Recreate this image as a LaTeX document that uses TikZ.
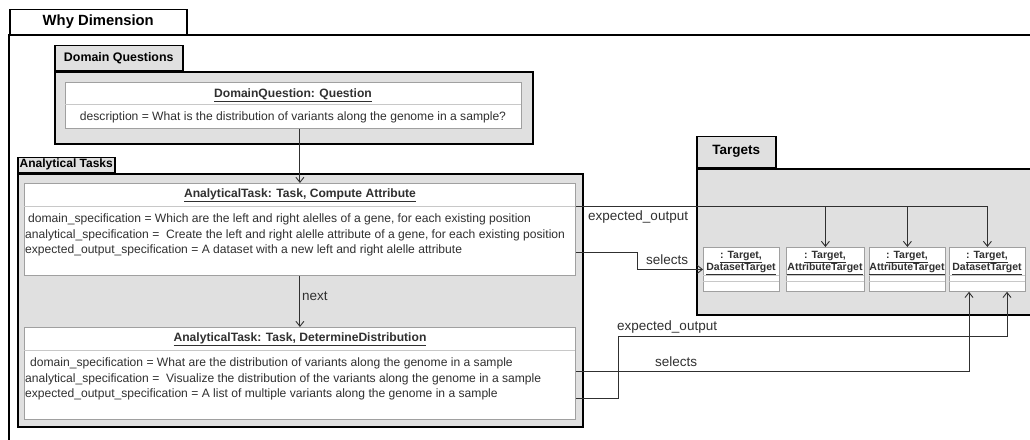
\documentclass[tikz,border=0pt]{standalone}
\usepackage{fontspec}
\setmainfont{Liberation Sans}
\usetikzlibrary{arrows.meta}

\definecolor{pkgfill}{HTML}{E0E0E0}
\definecolor{boxline}{HTML}{A0A0A0}
\definecolor{sepgray}{HTML}{C8C8C8}
\definecolor{inkgray}{HTML}{303030}

\tikzset{
  pkgtab/.style={draw=black, line width=1.5pt, fill=pkgfill, anchor=south west, inner sep=0pt,
    font=\bfseries\fontsize{12.4}{14}\selectfont},
  pkgbody/.style={draw=black, line width=1.5pt, fill=pkgfill, anchor=north west, inner sep=0pt},
  umlbox/.style={draw=boxline, line width=0.8pt, fill=white, anchor=north west, inner sep=0pt},
  sepline/.style={draw=sepgray, line width=0.8pt},
  umltitle/.style={font=\bfseries\fontsize{12.1}{14}\selectfont, text=inkgray, anchor=base, inner sep=0pt},
  attrtext/.style={font=\fontsize{12.1}{14}\selectfont, text=inkgray, anchor=base west, inner sep=0pt},
  tgtext/.style={font=\bfseries\fontsize{10.5}{12.5}\selectfont, text=inkgray, align=center, inner sep=0pt},
  conn/.style={draw=inkgray, line width=0.9pt},
  arr/.style={conn, -{Straight Barb[length=5pt, width=8pt]}},
  connlabel/.style={font=\fontsize{13.5}{15}\selectfont, text=inkgray, anchor=base west, inner sep=0pt},
}

\begin{document}
\begin{tikzpicture}[x=1pt, y=-1pt]

  \useasboundingbox (0,0) rectangle (1030,439);

  % targetbox[name, x, width, kind]
  \def\targetbox[#1, #2, #3, #4]{
    \node[umlbox, minimum width=#3pt, minimum height=44pt] (#1) at (#2,247) {};
    \draw[sepline] (#2,275) -- (#2+#3,275);
    \draw[sepline] (#2,281) -- (#2+#3,281);
    \node[tgtext] (#1-name) at (#2+#3/2,263) {\underline{: Target,}\\\underline{#4}};
  }

  % Why Dimension frame
  \draw[black, line width=1.5pt] (1032,35) -- (9,35) -- (9,441);
  \node[pkgtab, fill=white, minimum width=177pt, minimum height=25pt,
    font=\bfseries\fontsize{14.8}{16}\selectfont] (whytab) at (9,35) {Why Dimension};

  % Domain Questions
  \node[pkgbody, minimum width=478pt, minimum height=72pt] (dqbody) at (54,71) {};
  \node[pkgtab, minimum width=128pt, minimum height=25pt] (dqtab) at (dqbody.north west) {Domain Questions};
  \node[umlbox, minimum width=456pt, minimum height=46pt] (dq) at (65,82) {};
  \draw[sepline] (65,104) -- (521,104);
  \node[umltitle] (dqtitle) at (293,97) {\underline{DomainQuestion: Question}};
  \node[attrtext, anchor=base] (dqdesc) at (293,120)
    {description = What is the distribution of variants along the genome in a sample?};

  % Analytical Tasks
  \node[pkgbody, minimum width=565pt, minimum height=253pt] (atbody) at (17,173) {};
  \node[pkgtab, minimum width=97pt, minimum height=15pt,
    font=\bfseries\fontsize{12}{13}\selectfont] (attab) at (atbody.north west) {Analytical Tasks};

  \node[umlbox, minimum width=551pt, minimum height=92pt] (task1) at (24,183) {};
  \draw[sepline] (24,206) -- (575,206);
  \node[umltitle] (task1title) at (300,197) {\underline{AnalyticalTask: Task, Compute Attribute}};
  \node[attrtext] (task1a) at (28,222)
    {domain\_specification = Which are the left and right alelles of a gene, for each existing position};
  \node[attrtext] (task1b) at (25,238)
    {analytical\_specification = \ Create the left and right alelle attribute of a gene, for each existing position};
  \node[attrtext] (task1c) at (25,253)
    {expected\_output\_specification = A dataset with a new left and right alelle attribute};

  \node[umlbox, minimum width=551pt, minimum height=92pt] (task2) at (24,327) {};
  \draw[sepline] (24,350) -- (575,350);
  \node[umltitle] (task2title) at (300,341) {\underline{AnalyticalTask: Task, DetermineDistribution}};
  \node[attrtext] (task2a) at (30,366)
    {domain\_specification = What are the distribution of variants along the genome in a sample};
  \node[attrtext] (task2b) at (25,382)
    {analytical\_specification = \ Visualize the distribution of the variants along the genome in a sample};
  \node[attrtext] (task2c) at (25,397)
    {expected\_output\_specification = A list of multiple variants along the genome in a sample};

  % Targets
  \node[pkgbody, minimum width=340pt, minimum height=146pt] (tgbody) at (696,168) {};
  \node[pkgtab, minimum width=79pt, minimum height=31pt,
    font=\bfseries\fontsize{13.5}{15}\selectfont] (tgtab) at (tgbody.north west) {Targets};

  \targetbox[tg1, 703, 76, DatasetTarget]
  \targetbox[tg2, 786, 78, AttributeTarget]
  \targetbox[tg3, 869, 76, AttributeTarget]
  \targetbox[tg4, 949, 76, DatasetTarget]

  % Arrows
  \coordinate (eo1) at (988,206);
  \coordinate (s1) at (637,252);
  \coordinate (s2) at (969,371);
  \coordinate (eo2a) at (618,398);
  \coordinate (eo2b) at (1007,336);

  \draw[arr] (dq.south -| task1.north) -- (task1.north);
  \draw[arr] (task1.south) -- (task2.north);
  \node[connlabel] (nextlabel) at (302,300) {next};

  \draw[arr] (task1.east |- eo1) -| (tg4.north);
  \draw[arr] (tg2.north |- eo1) -- (tg2.north);
  \draw[arr] (tg3.north |- eo1) -- (tg3.north);
  \node[connlabel] (eo1label) at (588,220) {expected\_output};

  \draw[arr] (task1.east |- s1) -- (s1) |- (tg1.west);
  \node[connlabel] (s1label) at (646,264) {selects};

  \draw[arr] (task2.east |- s2) -- (s2) -- (s2 |- tg4.south);
  \node[connlabel] (s2label) at (655,366) {selects};

  \draw[arr] (task2.east |- eo2a) -- (eo2a) |- (eo2b) -- (eo2b |- tg4.south);
  \node[connlabel] (eo2label) at (617,330) {expected\_output};

\end{tikzpicture}
\end{document}
